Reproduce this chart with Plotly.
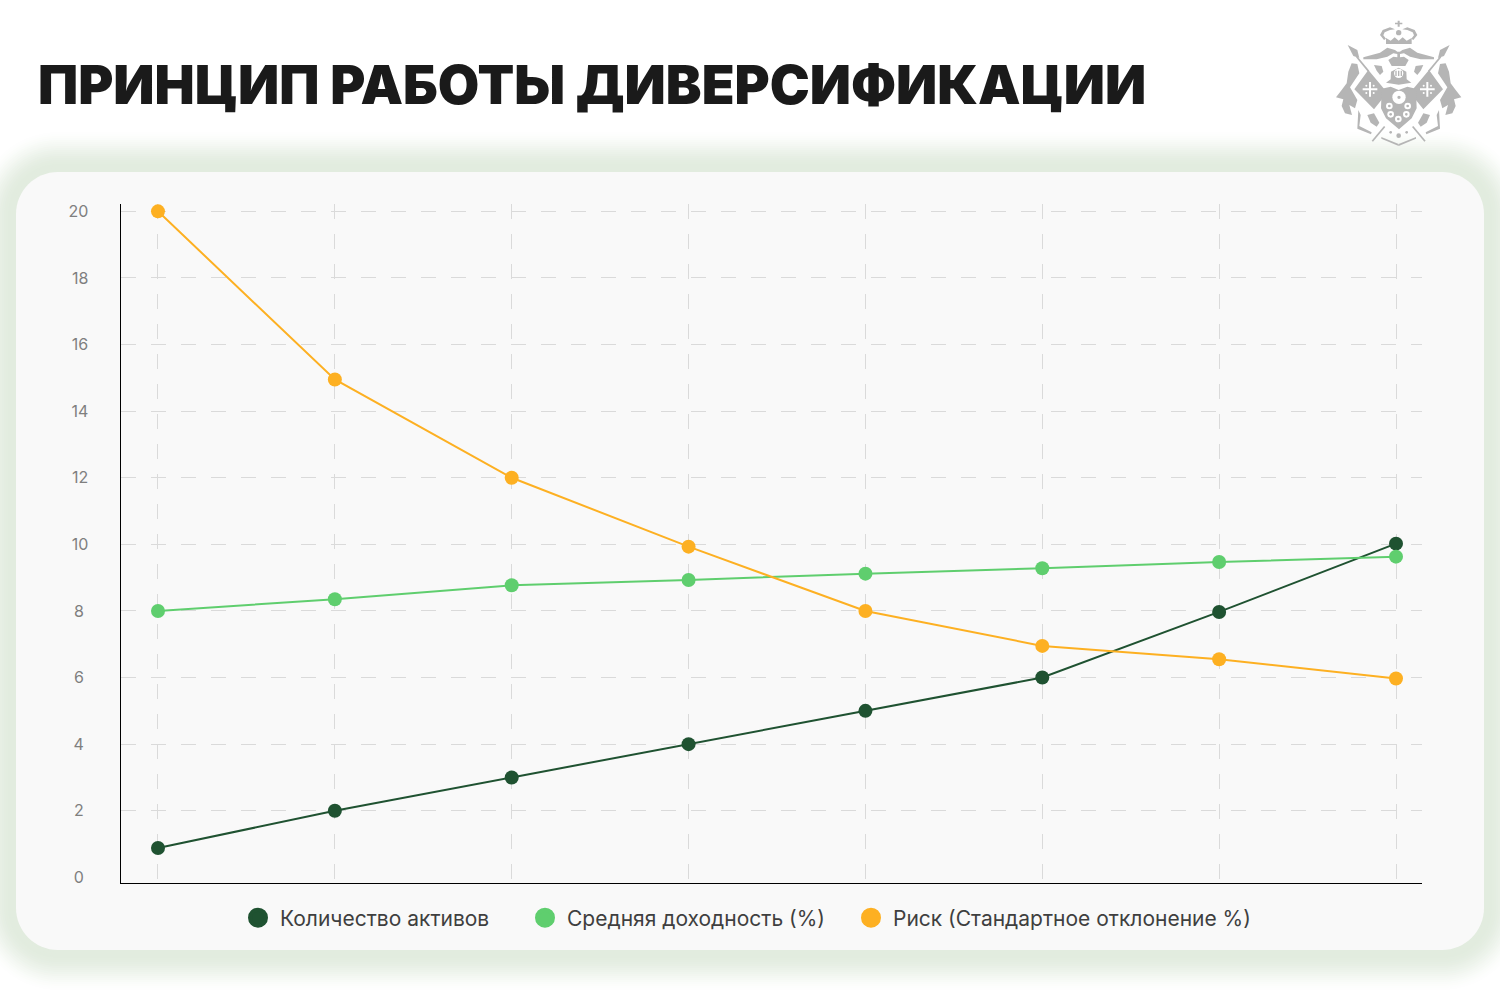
import plotly.graph_objects as go

POINTS = [1, 2, 3, 4, 5, 6, 7, 8]
ASSETS = [0.88, 2, 3, 4, 5, 6, 7.97, 10.02]
RETURNS = [8, 8.35, 8.77, 8.93, 9.12, 9.28, 9.47, 9.63]
RISK = [20, 14.95, 12, 9.93, 8, 6.95, 6.55, 5.97]
Y_TICKS = [0, 2, 4, 6, 8, 10, 12, 14, 16, 18, 20]

SERIES_NAMES = ["Количество активов", "Средняя доходность (%)", "Риск (Стандартное отклонение %)"]
SERIES_COLORS = ["#1F5231", "#5FCE6E", "#FDB022"]

TITLE = "ПРИНЦИП РАБОТЫ ДИВЕРСИФИКАЦИИ"
FONT = "Inter"
W, H = 1500, 1000
LOGO_GRAY = "#B5B5B5"


def fx(x):
    return x / W


def fy(y):
    return 1 - y / H


def rounded_rect(x0, y0, x1, y1, r):
    k = r * 0.45
    pts = [
        f"M{fx(x0 + r)},{fy(y0)}",
        f"L{fx(x1 - r)},{fy(y0)}",
        f"C{fx(x1 - k)},{fy(y0)} {fx(x1)},{fy(y0 + k)} {fx(x1)},{fy(y0 + r)}",
        f"L{fx(x1)},{fy(y1 - r)}",
        f"C{fx(x1)},{fy(y1 - k)} {fx(x1 - k)},{fy(y1)} {fx(x1 - r)},{fy(y1)}",
        f"L{fx(x0 + r)},{fy(y1)}",
        f"C{fx(x0 + k)},{fy(y1)} {fx(x0)},{fy(y1 - k)} {fx(x0)},{fy(y1 - r)}",
        f"L{fx(x0)},{fy(y0 + r)}",
        f"C{fx(x0)},{fy(y0 + k)} {fx(x0 + k)},{fy(y0)} {fx(x0 + r)},{fy(y0)}",
        "Z",
    ]
    return " ".join(pts)


def page_shape(path, color):
    return dict(type="path", xref="paper", yref="paper", path=path, fillcolor=color,
                line=dict(width=0), layer="below")


def card_shapes():
    shapes = []
    # soft green glow around the card, painted from the outside in
    for d in range(44, 0, -2):
        t = min(max((44 - d) / 38, 0), 1)
        t = t * t * (3 - 2 * t)
        r = round(255 + (226 - 255) * t)
        g = round(255 + (236 - 255) * t)
        b = round(255 + (223 - 255) * t)
        path = rounded_rect(16 - d, 172 - d, 1484 + d, 950 + d, 42 + d)
        shapes.append(page_shape(path, f"rgb({r},{g},{b})"))
    shapes.append(page_shape(rounded_rect(16, 172, 1484, 950, 42), "#F9F9F9"))
    return shapes


def logo_xy(x, y):
    return 1300 + x / 3, y / 3


def logo_poly(points, color=LOGO_GRAY, mirror=False):
    out = []
    for x, y in points:
        if mirror:
            x = 592 - x
        px, py = logo_xy(x, y)
        out.append(f"{fx(px)},{fy(py)}")
    return page_shape("M" + " L".join(out) + " Z", color)


def logo_dot(cx, cy, r, color=LOGO_GRAY, mirror=False):
    if mirror:
        cx = 592 - cx
    px, py = logo_xy(cx, cy)
    rx, ry = r / 3, r / 3
    return dict(type="circle", xref="paper", yref="paper", x0=fx(px - rx), x1=fx(px + rx),
                y0=fy(py + ry), y1=fy(py - ry), fillcolor=color, line=dict(width=0), layer="below")


def logo_shapes():
    s = []
    # top cross and big crown
    s.append(logo_poly([(293, 62), (299, 62), (299, 68), (307, 68), (307, 73), (299, 73), (299, 80), (293, 80), (293, 73), (285, 73), (285, 68), (293, 68)]))
    s.append(logo_dot(296, 98, 8))
    s.append(logo_poly([(258, 132), (258, 114), (272, 122), (284, 112), (296, 122), (308, 112), (320, 122), (335, 114), (335, 132)]))
    for m in (False, True):
        s.append(logo_poly([(252, 120), (240, 105), (248, 90), (270, 82), (285, 88), (270, 90), (254, 97), (250, 106), (258, 116)], mirror=m))
        # mantle top
        s.append(logo_poly([(190, 172), (240, 158), (262, 143), (285, 150), (296, 158), (296, 163), (280, 160), (262, 170), (230, 178), (190, 178)], mirror=m))
        # spear
        s.append(logo_poly([(143, 135), (172, 150), (178, 174), (160, 168)], mirror=m))
        s.append(logo_poly([(168, 172), (172, 169), (208, 212), (204, 216)], mirror=m))
        # flag with a white cross
        s.append(logo_poly([(163, 268), (205, 210), (262, 278), (240, 305), (222, 328)], mirror=m))
        s.append(logo_poly([(207, 246), (213, 246), (213, 265), (232, 265), (232, 271), (213, 271), (213, 290), (207, 290), (207, 271), (188, 271), (188, 265), (207, 265)], "#FFFFFF", mirror=m))
        s.append(logo_dot(199, 257, 3, "#FFFFFF", mirror=m))
        s.append(logo_dot(221, 257, 3, "#FFFFFF", mirror=m))
        s.append(logo_dot(199, 279, 3, "#FFFFFF", mirror=m))
        s.append(logo_dot(221, 279, 3, "#FFFFFF", mirror=m))
        # mantling
        s.append(logo_poly([(155, 190), (172, 192), (178, 220), (150, 262), (172, 300), (165, 325), (148, 315), (156, 345), (135, 340), (125, 318), (130, 298), (108, 292), (125, 270), (140, 250), (145, 215)], mirror=m))
        # tail and wheat
        s.append(logo_poly([(175, 330), (182, 345), (178, 378), (215, 397), (213, 403), (172, 386)], mirror=m))
        s.append(logo_poly([(202, 345), (222, 340), (238, 368), (230, 380), (212, 368)], mirror=m))
        # crossed staff
        s.append(logo_poly([(252, 378), (256, 381), (219, 425), (215, 422)], mirror=m))
        # small bird
        s.append(logo_poly([(222, 195), (245, 198), (250, 215), (240, 225), (230, 212)], mirror=m))
        s.append(logo_dot(272, 397, 4, mirror=m))
        # bottom ribbon
        s.append(logo_poly([(244, 411), (296, 432), (296, 438), (244, 416)], mirror=m))
    # small crown and helmet
    s.append(logo_poly([(275, 198), (265, 180), (280, 170), (292, 172), (292, 155), (300, 155), (300, 172), (312, 170), (326, 180), (316, 198)]))
    s.append(logo_poly([(258, 248), (272, 238), (273, 215), (296, 203), (319, 215), (320, 238), (334, 248), (296, 254)]))
    s.append(logo_dot(296, 220, 14, "#FFFFFF"))
    for bar_x in (288, 296, 304):
        s.append(logo_poly([(bar_x - 2, 212), (bar_x + 2, 212), (bar_x + 2, 228), (bar_x - 2, 228)]))
    # shield with roundels
    s.append(logo_poly([(245, 266), (272, 260), (296, 270), (322, 260), (348, 266), (350, 325), (335, 355), (297, 388), (258, 355), (243, 325)]))
    s.append(logo_dot(297, 292, 20, "#FFFFFF"))
    s.append(logo_dot(297, 292, 5))
    for cx, cy in [(268, 318), (323, 318), (272, 343), (319, 343), (295, 357)]:
        s.append(logo_dot(cx, cy, 10, "#FFFFFF"))
        s.append(logo_dot(cx, cy, 4))
    s.append(logo_dot(296, 407, 7))
    return s


fig = go.Figure()

for values, name, color in zip([ASSETS, RETURNS, RISK], SERIES_NAMES, SERIES_COLORS):
    fig.add_trace(
        go.Scatter(
            x=POINTS,
            y=values,
            name=name,
            mode="lines+markers",
            line=dict(color=color, width=2),
            marker=dict(color=color, size=14),
            showlegend=False,
        )
    )

# Legend markers are larger than the chart markers, so each key gets its own entry
legend_ids = ["legend", "legend2", "legend3"]
for name, color, legend_id in zip(SERIES_NAMES, SERIES_COLORS, legend_ids):
    fig.add_trace(
        go.Scatter(
            x=[None],
            y=[None],
            name=name,
            mode="markers",
            marker=dict(color=color, size=16, line=dict(color=color, width=4)),
            legend=legend_id,
        )
    )


def legend_at(x):
    return dict(
        xref="container", yref="container",
        x=x / W, y=fy(918), xanchor="left", yanchor="middle", orientation="h",
        itemwidth=34,
        bgcolor="rgba(0,0,0,0)", font=dict(family=FONT, size=21, color="#3F3F3F"),
    )


fig.update_layout(
    width=W,
    height=H,
    # autoexpand off: the legends must not push the plot area around
    margin=dict(l=0, r=0, t=0, b=0, autoexpand=False),
    autosize=False,
    paper_bgcolor="#FFFFFF",
    plot_bgcolor="rgba(0,0,0,0)",
    font=dict(family=FONT),
    title=dict(
        text=TITLE,
        x=38 / W,
        xanchor="left",
        y=fy(85),
        yanchor="middle",
        font=dict(family=FONT, size=53.6, color="#1A1A1A", weight=900),
    ),
    xaxis=dict(
        domain=[120.5 / W, 1422 / W],
        range=[0.788, 8.147],
        tickvals=POINTS,
        showticklabels=False,
        showgrid=True,
        gridcolor="#DADADA",
        griddash="15px,15px",
        gridwidth=1,
        zeroline=False,
        showline=True,
        linecolor="#000000",
        linewidth=1,
    ),
    yaxis=dict(
        domain=[fy(883), fy(204)],
        range=[-0.17, 20.22],
        tickvals=Y_TICKS,
        ticktext=[f"{v}\u00a0" if v < 10 else str(v) for v in Y_TICKS],
        ticklabelstandoff=28,
        tickfont=dict(family=FONT, size=16, color="#7F7F7F"),
        showgrid=True,
        gridcolor="#DADADA",
        griddash="15px,15px",
        gridwidth=1,
        zeroline=True,
        zerolinecolor="rgba(0,0,0,0)",
        showline=True,
        linecolor="#000000",
        linewidth=1,
    ),
    legend=legend_at(236),
    legend2=legend_at(523),
    legend3=legend_at(849),
    shapes=card_shapes() + logo_shapes(),
)

fig.write_html("out.html", config={"displayModeBar": False}, post_script="document.body.style.margin='0';")
